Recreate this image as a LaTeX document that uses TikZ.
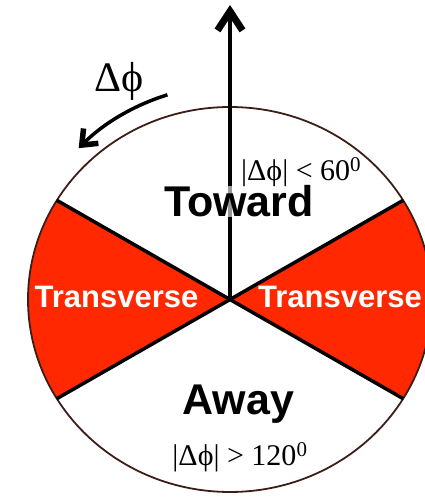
\documentclass[tikz,border=0pt]{standalone}
\usepackage{fontspec}
\setmainfont{Liberation Serif}
\setsansfont{Liberation Sans}
\usetikzlibrary{arrows.meta}
\definecolor{sectorred}{RGB}{255,40,0}
\definecolor{rimline}{RGB}{60,30,25}

\begin{document}
\begin{tikzpicture}[x=1pt, y=1pt]
  \clip (0,0) rectangle (425,499);

  % ---- geometry: ellipse centre and sector corners ------------
  \coordinate (centre) at (230,199.5);
  \path (centre) ++(149:202 and 192.5) coordinate (ul);
  \path (centre) ++( 31:202 and 192.5) coordinate (ur);
  \path (centre) ++(211:202 and 192.5) coordinate (ll);
  \path (centre) ++(329:202 and 192.5) coordinate (lr);
  \coordinate (tip) at (230,494);

  \tikzstyle{spoke}=[line width=3.5pt, black]
  \tikzstyle{label}=[font=\sffamily\bfseries\fontsize{43}{43}\selectfont, anchor=base]
  \tikzstyle{side}=[font=\sffamily\bfseries\fontsize{31}{31}\selectfont, white, anchor=base]
  \tikzstyle{cut}=[font=\fontsize{30}{30}\selectfont, anchor=base]

  % ---- red transverse sectors ---------------------------------
  \fill[sectorred] (centre) -- (ul)
    arc[start angle=149, end angle=211, x radius=202, y radius=192.5] -- cycle;
  \fill[sectorred] (centre) -- (lr)
    arc[start angle=-31, end angle=31, x radius=202, y radius=192.5] -- cycle;

  % ---- outline and dividing lines -----------------------------
  \draw[rimline, line width=1.8pt] (centre) ellipse[x radius=202, y radius=192.5];
  \draw[spoke] (ul) -- (lr);
  \draw[spoke] (ur) -- (ll);

  % ---- reference direction ------------------------------------
  \draw[line width=4pt, -{Straight Barb[length=19pt, width=25pt, line width=7pt]}]
    (centre) -- (tip);

  % ---- rotation arrow -----------------------------------------
  \path (centre) ++(107:214) coordinate (rotstart);
  \draw[line width=3.5pt, -{Straight Barb[length=13pt, width=21pt, line width=5.5pt]}]
    (rotstart) arc[start angle=107, end angle=135, radius=214];
  \node[font=\fontsize{42}{42}\selectfont, anchor=base] (dphi) at (119,407) {Δϕ};

  % ---- region labels ------------------------------------------
  \node[cut, anchor=base west, fill=white, fill opacity=0.6, text opacity=1,
        inner sep=0pt] (small) at (241,318) {|Δϕ| < 60\textsuperscript{0}};
  \node[label, fill=white, fill opacity=0.6, text opacity=1, inner sep=0pt]
        (toward) at (239,282) {Toward};
  \node[side] (tleft)  at (116.5,191) {Transverse};
  \node[side, anchor=base west, inner sep=0pt] (tright) at (258,191) {Transverse};
  \node[label] (away) at (238.5,84) {Away};
  \node[cut] (large) at (240,33) {|Δϕ| > 120\textsuperscript{0}};
\end{tikzpicture}
\end{document}
